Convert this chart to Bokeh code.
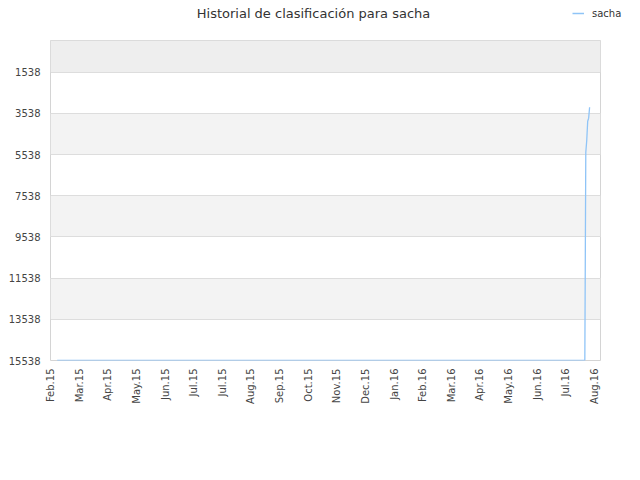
import math
from datetime import datetime
from bokeh.plotting import figure
from bokeh.layouts import column
from bokeh.models import (Range1d, FixedTicker, BoxAnnotation, Legend, LegendItem,
                          ColumnDataSource, Label)
from bokeh.embed import file_html
from bokeh.resources import INLINE

# ---- data ----
player = "sacha"
chart_title = "Historial de clasificación para sacha"
dates = ["2015-02-08", "2016-08-14", "2016-08-15", "2016-08-16",
         "2016-08-17", "2016-08-18", "2016-08-19"]
ranks = [15538, 15538, 5430, 4840, 3920, 3770, 3240]
y_ticks = [1538, 3538, 5538, 7538, 9538, 11538, 13538, 15538]
x_tick_dates = ["2015-02-01", "2015-03-03", "2015-04-02", "2015-05-02", "2015-06-01",
                "2015-07-01", "2015-07-31", "2015-08-30", "2015-09-29", "2015-10-29",
                "2015-11-28", "2015-12-28", "2016-01-27", "2016-02-26", "2016-03-27",
                "2016-04-26", "2016-05-26", "2016-06-25", "2016-07-25", "2016-08-24"]
x_tick_labels = ["Feb.15", "Mar.15", "Apr.15", "May.15", "Jun.15", "Jul.15", "Jul.15",
                 "Aug.15", "Sep.15", "Oct.15", "Nov.15", "Dec.15", "Jan.16", "Feb.16",
                 "Mar.16", "Apr.16", "May.16", "Jun.16", "Jul.16", "Aug.16"]


def to_ms(s):
    return (datetime.strptime(s, "%Y-%m-%d") - datetime(1970, 1, 1)).total_seconds() * 1000.0


src = ColumnDataSource(dict(x=[datetime.strptime(d, "%Y-%m-%d") for d in dates], y=ranks))

FONT = "DejaVu Sans"
LINE_COLOR = "#8fc4f7"
W = 624
HEAD_H = 30
MAIN_H = 464 - HEAD_H
LEFT, RIGHT, TOP, BOTTOM = 50, 24, 10, 104
FW = W - LEFT - RIGHT

# ---- header (title + legend), full width, not frame-aligned ----
head = figure(width=W, height=HEAD_H, output_backend="svg", toolbar_location=None,
              x_range=Range1d(0, W), y_range=Range1d(0, HEAD_H),
              x_axis_location=None, y_axis_location=None,
              min_border=0, min_border_left=0, min_border_right=0,
              min_border_top=0, min_border_bottom=0)
head.grid.visible = False
head.outline_line_color = None
head.background_fill_color = "white"
head.border_fill_color = "white"
head.add_layout(Label(x=313, y=HEAD_H - 13, text=chart_title,
                      text_align="center", text_baseline="middle", text_font=FONT,
                      text_font_size="13px", text_color="#333333"))
legend_src = ColumnDataSource(dict(x=[float("nan")], y=[float("nan")]))
dummy = head.line("x", "y", source=legend_src, line_color=LINE_COLOR, line_width=1.5)
legend = Legend(items=[LegendItem(label=player, renderers=[dummy])],
                location=(572, 11),
                border_line_color=None, background_fill_alpha=0, padding=0, margin=0,
                spacing=0, glyph_width=12, glyph_height=12, label_height=12,
                label_standoff=8, label_text_font=FONT, label_text_font_size="10px",
                label_text_color="#333333")
head.add_layout(legend)

# ---- main chart ----
p = figure(width=W, height=MAIN_H, x_axis_type="datetime", output_backend="svg",
           toolbar_location=None,
           x_range=Range1d(datetime(2015, 2, 1), datetime(2016, 8, 30, 10)),
           y_range=Range1d(y_ticks[-1], 0),
           min_border_left=LEFT, min_border_right=RIGHT, min_border_top=TOP,
           min_border_bottom=BOTTOM)

for fig in (head, p):
    if "frame_align" in fig.properties():
        fig.frame_align = False

p.background_fill_color = "white"
p.border_fill_color = "white"
p.outline_line_color = "#d4d4d4"
p.outline_line_width = 1

# bands
p.add_layout(BoxAnnotation(bottom=0, top=y_ticks[0], fill_color="#eeeeee", fill_alpha=1,
                           line_color=None, level="image"))
for i in range(1, len(y_ticks) - 1, 2):
    p.add_layout(BoxAnnotation(bottom=y_ticks[i], top=y_ticks[i + 1], fill_color="#f3f3f3",
                               fill_alpha=1, line_color=None, level="image"))

r = p.line("x", "y", source=src, line_color=LINE_COLOR, line_width=1.3)

# axes
tick_ms = [to_ms(d) for d in x_tick_dates]
p.xaxis.ticker = FixedTicker(ticks=tick_ms)
p.xaxis.major_label_overrides = {t: l for t, l in zip(tick_ms, x_tick_labels)}
p.xaxis.major_label_orientation = math.pi / 2
p.yaxis.ticker = FixedTicker(ticks=y_ticks)
for ax in (p.xaxis, p.yaxis):
    ax.axis_line_color = None
    ax.major_tick_line_color = None
    ax.minor_tick_line_color = None
    ax.major_tick_out = 0
    ax.major_tick_in = 0
    ax.minor_tick_out = 0
    ax.major_label_text_font = FONT
    ax.major_label_text_font_size = "10px"
    ax.major_label_text_color = "#444444"
p.xaxis.major_label_standoff = 8
p.yaxis.major_label_standoff = 10

p.xgrid.grid_line_color = None
p.ygrid.ticker = FixedTicker(ticks=y_ticks)
p.ygrid.grid_line_color = "#dddddd"

layout = column(head, p, spacing=0)
open("out.html", "w").write(file_html(layout, INLINE))
